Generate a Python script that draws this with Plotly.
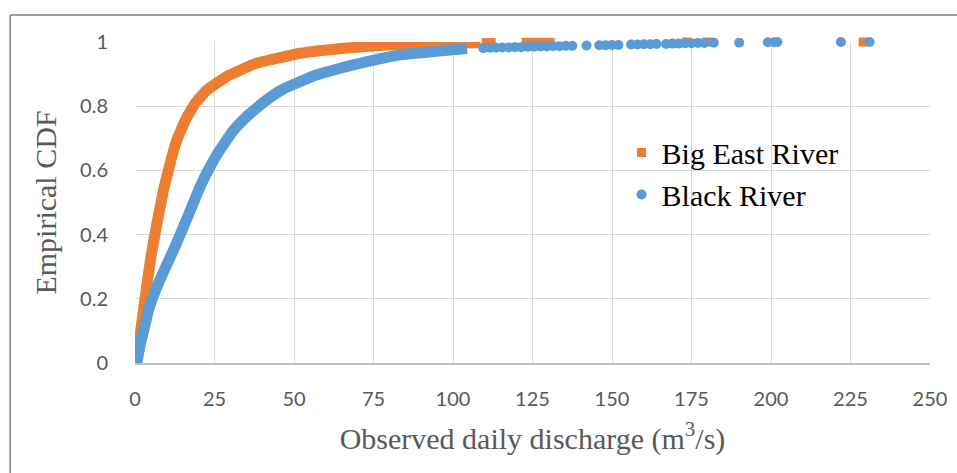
import plotly.graph_objects as go

# Big East River - empirical CDF (dense body)
big_east_x = [0.5, 1.5, 3.0, 5.0, 7.0, 9.0, 11.0, 13.0, 16.0, 19.0, 22.6, 29.0, 38.0, 52.0, 65.0, 78.0, 95.0, 108.6]
big_east_y = [0.0, 0.08, 0.19, 0.33, 0.44, 0.54, 0.62, 0.69, 0.76, 0.81, 0.85, 0.893, 0.933, 0.965, 0.98, 0.99, 0.996, 0.998]
# Big East River - sparse upper tail
big_east_tail_x = [110.5, 112.0, 123.0, 124.5, 126.5, 128.5, 130.5, 173.5, 180.0, 229.0]
big_east_tail_y = [0.998, 0.998, 0.999, 0.999, 0.999, 0.999, 0.999, 1.0, 1.0, 1.0]

# Black River - empirical CDF (dense body)
black_x = [0.6, 1.5, 2.7, 4.3, 6.4, 9.0, 12.7, 15.5, 18.0, 20.5, 23.0, 25.8, 28.5, 31.0, 34.0, 36.3,
           41.5, 46.0, 52.0, 57.0, 62.5, 68.0, 73.0, 78.0, 83.4, 88.0, 94.0, 99.0, 104.4]
black_y = [0.0, 0.05, 0.10, 0.166, 0.225, 0.285, 0.365, 0.43, 0.49, 0.55, 0.60, 0.65, 0.69, 0.725, 0.757, 0.778,
           0.82, 0.85, 0.877, 0.897, 0.913, 0.927, 0.939, 0.95, 0.96, 0.965, 0.97, 0.975, 0.98]
# Black River - upper tail points
black_tail_x = [109.5, 111.5, 113.5, 115.5, 117.5, 119.5, 121.5, 123.5, 125.5, 127.5, 129.5, 131.5, 133.5, 135.5, 137.5,
                142, 146, 148, 150, 152, 156, 158, 160, 162, 164, 167, 169, 171, 173, 175, 177, 179, 182,
                190, 199, 201, 202, 222, 231]
black_tail_y = [0.981, 0.982, 0.982, 0.983, 0.983, 0.984, 0.984, 0.985, 0.985, 0.986, 0.986, 0.987, 0.987, 0.988, 0.988,
                0.989, 0.99, 0.99, 0.991, 0.991, 0.992, 0.992, 0.993, 0.993, 0.994, 0.994, 0.995, 0.995, 0.996, 0.996,
                0.997, 0.997, 0.998, 0.998, 0.999, 0.999, 1.0, 1.0, 1.0]

x_ticks = [0, 25, 50, 75, 100, 125, 150, 175, 200, 225, 250]
y_ticks = [0, 0.2, 0.4, 0.6, 0.8, 1]
y_tick_text = ["0", "0.2", "0.4", "0.6", "0.8", "1"]

ORANGE = "#ED7D31"
BLUE = "#5B9BD5"

fig = go.Figure()
fig.add_trace(go.Scatter(x=big_east_x, y=big_east_y, mode="lines", name="Big East River",
                         line=dict(color=ORANGE, width=11, shape="spline", smoothing=0.3),
                         showlegend=False, cliponaxis=False, hoverinfo="skip"))
fig.add_trace(go.Scatter(x=big_east_tail_x, y=big_east_tail_y, mode="markers", name="Big East River",
                         marker=dict(color=ORANGE, size=9, symbol="square"),
                         cliponaxis=False))
fig.add_trace(go.Scatter(x=black_x, y=black_y, mode="lines", name="Black River",
                         line=dict(color=BLUE, width=11, shape="spline", smoothing=0.3),
                         showlegend=False, cliponaxis=False, hoverinfo="skip"))
fig.add_trace(go.Scatter(x=black_tail_x, y=black_tail_y, mode="markers", name="Black River",
                         marker=dict(color=BLUE, size=10, symbol="circle"),
                         cliponaxis=False))

tick_font = dict(family="Lato, Open Sans, sans-serif", size=20, color="#595959")
title_font = dict(family="Liberation Serif, Times New Roman, serif", size=30, color="#595959")

fig.update_layout(
    width=957, height=473,
    margin=dict(l=135, r=27, t=42, b=110),
    paper_bgcolor="white", plot_bgcolor="white",
    xaxis=dict(range=[0, 250], tickvals=x_ticks, ticktext=[str(v) for v in x_ticks],
               showgrid=True, gridcolor="#D9D9D9", gridwidth=1,
               zeroline=False, showline=True, linecolor="#BFBFBF", linewidth=1.5,
               layer="below traces",
               ticks="", tickfont=tick_font, ticklabelstandoff=17,
               title=dict(text="Observed daily discharge (m<sup>3</sup>/s)", font=title_font, standoff=19),
               automargin=False),
    yaxis=dict(range=[0, 1], tickvals=y_ticks, ticktext=y_tick_text,
               showgrid=True, gridcolor="#D9D9D9", gridwidth=1,
               zeroline=False, showline=False, ticks="", tickfont=tick_font, ticklabelstandoff=26,
               layer="below traces",
               title=dict(text="Empirical CDF", font=title_font, standoff=14),
               automargin=False),
    legend=dict(x=0.612, y=0.737, xanchor="left", yanchor="top",
                font=dict(family="Liberation Serif, Times New Roman, serif", size=30, color="#000000"),
                bgcolor="rgba(0,0,0,0)", borderwidth=0, itemsizing="trace"),
    shapes=[
        dict(type="line", xref="paper", yref="paper", x0=-0.157, x1=1.1, y0=1.084, y1=1.084,
             line=dict(color="#808080", width=1.5)),
        dict(type="line", xref="paper", yref="paper", x0=-0.157, x1=-0.157, y0=1.084, y1=-0.4,
             line=dict(color="#808080", width=1.5)),
    ],
)

fig.write_html("out.html")
